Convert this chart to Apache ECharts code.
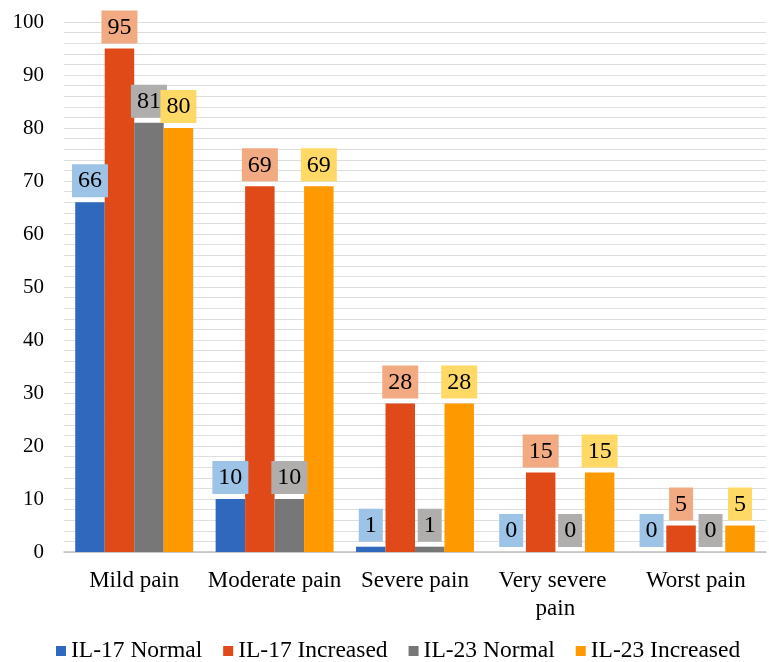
<!DOCTYPE html>
<html><head><meta charset="utf-8">
<script src="https://cdn.jsdelivr.net/npm/echarts@6/dist/echarts.min.js"></script>
<style>html,body{margin:0;padding:0;background:#fff}#c{width:769px;height:662px}</style>
</head><body><div id="c"></div>
<script>
const categories = ["Mild pain", "Moderate pain", "Severe pain", "Very severe pain", "Worst pain"];
const il17Normal = [66, 10, 1, 0, 0];
const il17Increased = [95, 69, 28, 15, 5];
const il23Normal = [81, 10, 1, 0, 0];
const il23Increased = [80, 69, 28, 15, 5];
const yTicks = [0, 10, 20, 30, 40, 50, 60, 70, 80, 90, 100];

const FONT = '"Liberation Serif", "Times New Roman", serif';
function mkSeries(name, data, color, labelBg) {
  return {
    name: name, type: 'bar', data: data, barGap: '0%', barCategoryGap: '16%',
    itemStyle: { color: color },
    label: {
      show: true, position: 'top', distance: 5,
      color: '#000', fontFamily: FONT, fontSize: 24,
      backgroundColor: labelBg, padding: [5, 6, 4, 6], lineHeight: 24
    }
  };
}
const chart = echarts.init(document.getElementById('c'), null, { renderer: 'canvas' });
chart.setOption({
  animation: false,
  backgroundColor: '#fff',
  grid: { left: 64, top: 22, width: 710, bottom: 110 },
  legend: {
    top: 639, left: 56, padding: 0, itemWidth: 10, itemHeight: 10, itemGap: 21,
    icon: 'rect',
    textStyle: { fontFamily: FONT, fontSize: 23.5, color: '#000' }
  },
  xAxis: {
    type: 'category', data: categories,
    axisLine: { lineStyle: { color: '#BFBFBF', width: 1.5 } },
    axisTick: { show: false },
    splitLine: { show: false },
    axisLabel: { fontFamily: FONT, fontSize: 23, color: '#000', margin: 15, width: 142, overflow: 'break', lineHeight: 28, interval: 0 }
  },
  yAxis: {
    type: 'value', min: yTicks[0], max: yTicks[yTicks.length - 1], interval: 10,
    axisLine: { show: false }, axisTick: { show: false },
    axisLabel: { fontFamily: FONT, fontSize: 21, color: '#000', margin: 20 },
    splitLine: { lineStyle: { color: '#DEDEDE' } },
    minorTick: { show: false, splitNumber: 5 },
    minorSplitLine: { show: true, lineStyle: { color: '#DEDEDE' } }
  },
  series: [
    mkSeries('IL-17 Normal', il17Normal, '#2F68BD', '#9DC3E6'),
    mkSeries('IL-17 Increased', il17Increased, '#E04A18', '#F2AA82'),
    mkSeries('IL-23 Normal', il23Normal, '#777777', '#B0ADAD'),
    mkSeries('IL-23 Increased', il23Increased, '#FF9900', '#FFD966')
  ]
});
</script></body></html>
